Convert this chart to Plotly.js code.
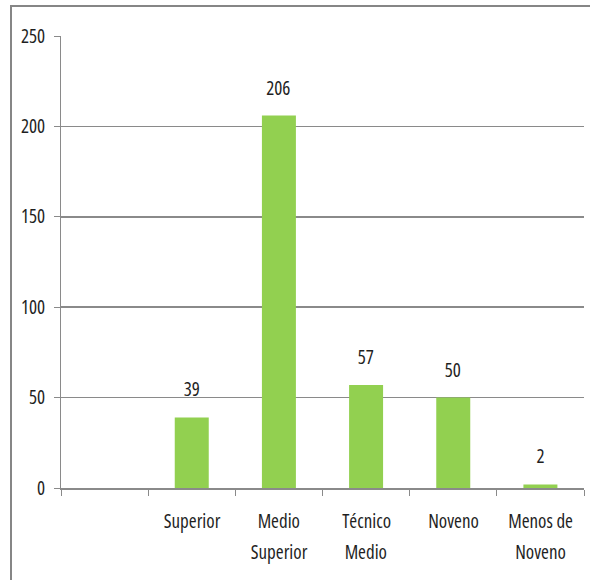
<!DOCTYPE html>
<html>
<head>
<meta charset="utf-8">
<script src="https://cdn.plot.ly/plotly-3.0.1.min.js"></script>
<style>
  html, body { margin: 0; padding: 0; background: #ffffff; overflow: hidden; }
  #frame {
    position: absolute; left: 10px; top: 5px; width: 700px; height: 700px;
    border-left: 2px solid #868686; border-top: 2px solid #868686;
  }
  #chart { position: absolute; left: 0; top: 0; width: 590px; height: 580px; }
  /* narrow letterforms for all chart text */
  #chart text { font-stretch: 75%; }
</style>
</head>
<body>
<div id="frame"></div>
<div id="chart"></div>
<script>
// Education level counts
const lineOne = ["", "Superior", "Medio", "Técnico", "Noveno", "Menos de"];
const lineTwo = ["", "", "Superior", "Medio", "", "Noveno"];
const counts = [null, 39, 206, 57, 50, 2];
const yTicks = [0, 50, 100, 150, 200, 250];

const FONT = "'Open Sans', 'Roboto Condensed', sans-serif";
const SIZE = 19;
const TEXT = "#1f1f1f";
const GREY = "#8a8a8a";

const xs = counts.map((_, i) => i);
const boundaries = [];
for (let i = 0; i <= counts.length; i++) boundaries.push(i - 0.5);

const annotations = [];
counts.forEach((v, i) => {
  if (v !== null) {
    annotations.push({
      x: i, y: v, xref: "x", yref: "y", text: String(v), showarrow: false,
      yanchor: "middle", yshift: 28, font: { family: FONT, size: SIZE, color: TEXT }
    });
  }
  if (lineOne[i]) {
    annotations.push({
      x: i, y: 0, xref: "x", yref: "paper", text: lineOne[i], showarrow: false,
      yanchor: "middle", yshift: -33, font: { family: FONT, size: SIZE, color: TEXT }
    });
  }
  if (lineTwo[i]) {
    annotations.push({
      x: i, y: 0, xref: "x", yref: "paper", text: lineTwo[i], showarrow: false,
      yanchor: "middle", yshift: -64, font: { family: FONT, size: SIZE, color: TEXT }
    });
  }
});

const data = [{
  type: "bar",
  x: xs,
  y: counts,
  marker: { color: "#92D050", line: { width: 0 } },
  width: 0.39,
  hoverinfo: "skip"
}];

const layout = {
  width: 590, height: 580,
  margin: { l: 61, r: 6, t: 36, b: 92 },
  paper_bgcolor: "rgba(0,0,0,0)",
  plot_bgcolor: "rgba(0,0,0,0)",
  showlegend: false,
  xaxis: {
    range: [-0.5, counts.length - 0.5],
    tickvals: boundaries,
    ticktext: boundaries.map(() => ""),
    ticks: "outside", ticklen: 6, tickcolor: GREY, tickwidth: 1,
    showgrid: false, zeroline: false,
    showline: true, linecolor: GREY, linewidth: 1.5,
    fixedrange: true
  },
  yaxis: {
    range: [0, 250],
    tickvals: yTicks,
    ticks: "outside", ticklen: 6, tickcolor: GREY, tickwidth: 1,
    showgrid: true, gridcolor: GREY, gridwidth: 1.5,
    zeroline: false,
    showline: true, linecolor: GREY, linewidth: 1,
    ticklabelstandoff: 5,
    tickfont: { family: FONT, size: SIZE, color: TEXT },
    fixedrange: true
  },
  annotations: annotations
};

Plotly.newPlot("chart", data, layout, { displayModeBar: false, staticPlot: true });
</script>
</body>
</html>
